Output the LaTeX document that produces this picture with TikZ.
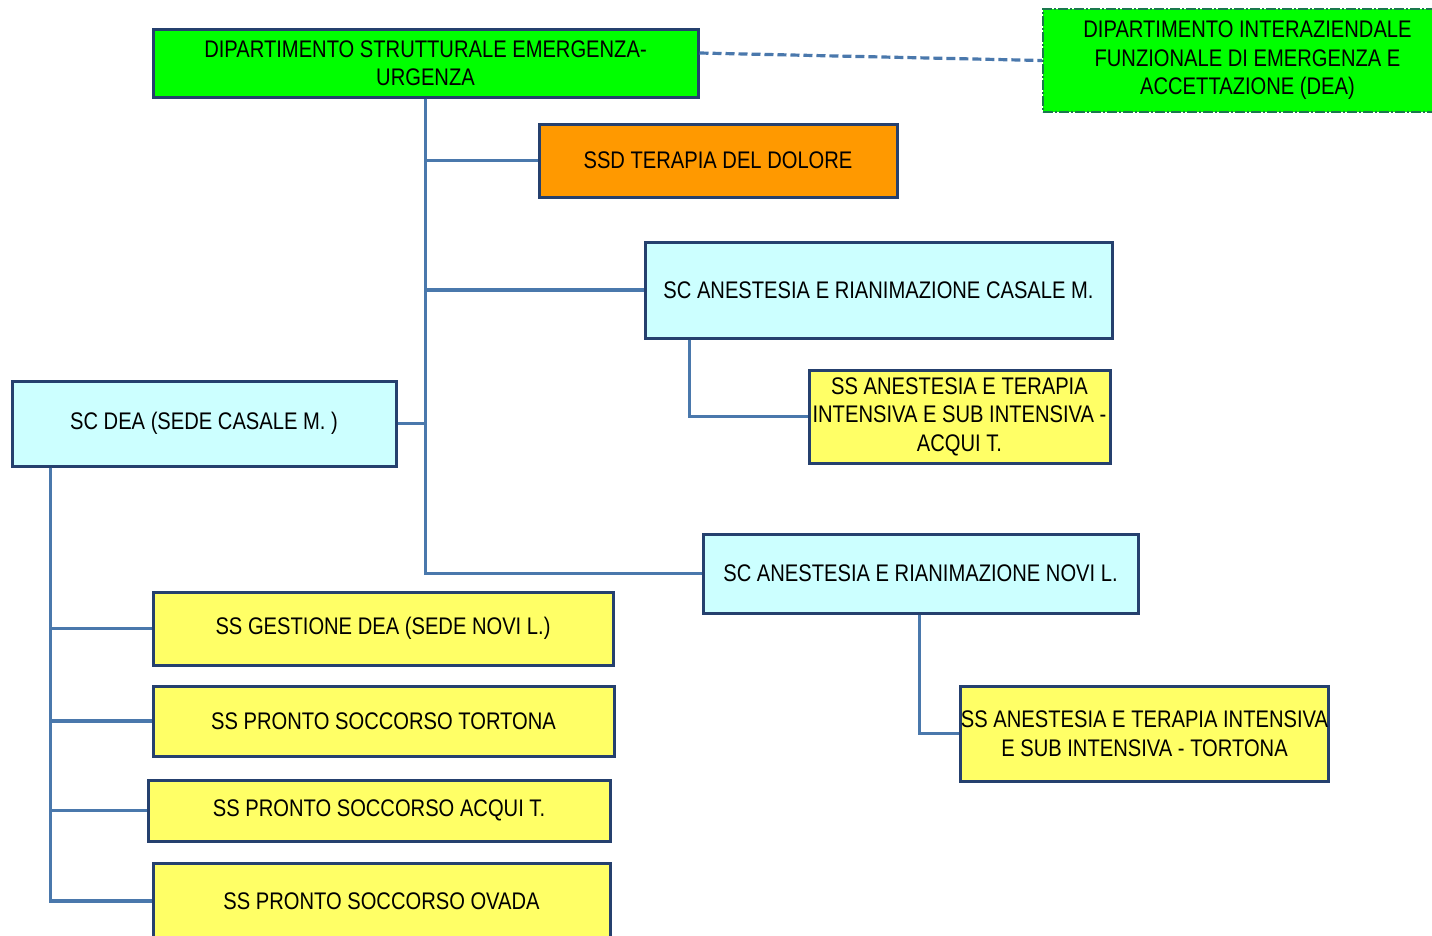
\documentclass[tikz,border=0pt]{standalone}
\usepackage{fontspec}
\setmainfont{Liberation Sans}[FakeStretch=0.84]

\definecolor{borderblue}{RGB}{37,64,110}
\definecolor{linkblue}{RGB}{74,120,172}
\definecolor{greenbox}{RGB}{0,255,0}
\definecolor{cyanbox}{RGB}{204,255,255}
\definecolor{yellowbox}{RGB}{255,255,102}
\definecolor{orangebox}{RGB}{255,153,0}

\tikzset{
  unit/.style={rectangle, draw=borderblue, line width=3pt, align=center,
    inner sep=0pt, font=\fontsize{24}{28.5}\selectfont},
  link/.style={draw=linkblue, line width=3.2pt},
}

\begin{document}
\begin{tikzpicture}[x=1pt,y=-1pt]
	\clip (0,0) rectangle (1432,935);
	\useasboundingbox (0,0) rectangle (1432,935);
	% departments
	\node[unit, fill=greenbox, minimum width=545pt, minimum height=68pt] (dipstr) at (425.5,63)
		{DIPARTIMENTO STRUTTURALE EMERGENZA-\\URGENZA};
	\node[unit, fill=greenbox, draw=borderblue!70!greenbox, line width=1.5pt,
		dash pattern=on 10pt off 2pt on 2pt off 2pt, minimum width=409pt, minimum height=103pt] (dea) at (1247.5,60.5)
		{DIPARTIMENTO INTERAZIENDALE\\FUNZIONALE DI EMERGENZA E\\ACCETTAZIONE (DEA)};
	% structures
	\node[unit, fill=orangebox, minimum width=358pt, minimum height=73pt] (ssd) at (718,160.5)
		{SSD TERAPIA DEL DOLORE};
	\node[unit, fill=cyanbox, minimum width=467pt, minimum height=96pt] (casale) at (878.5,290)
		{SC ANESTESIA E RIANIMAZIONE CASALE M.};
	\node[unit, fill=yellowbox, minimum width=301pt, minimum height=93pt] (acqui) at (959.5,416.5)
		{SS ANESTESIA E TERAPIA\\INTENSIVA E SUB INTENSIVA -\\ACQUI T.};
	\node[unit, fill=cyanbox, minimum width=384pt, minimum height=85pt] (scdea) at (204,423.5)
		{SC DEA (SEDE CASALE M. )};
	\node[unit, fill=cyanbox, minimum width=435pt, minimum height=79pt] (novi) at (920.5,573.5)
		{SC ANESTESIA E RIANIMAZIONE NOVI L.};
	\node[unit, fill=yellowbox, minimum width=365pt, minimum height=95pt] (tortona) at (1144.5,733.5)
		{SS ANESTESIA E TERAPIA INTENSIVA\\E SUB INTENSIVA - TORTONA};
	% simple structures of SC DEA
	\node[unit, fill=yellowbox, minimum width=460pt, minimum height=73pt] (gest) at (383,628.5)
		{SS GESTIONE DEA (SEDE NOVI L.)};
	\node[unit, fill=yellowbox, minimum width=461pt, minimum height=70pt] (pstortona) at (383.5,721)
		{SS PRONTO SOCCORSO TORTONA};
	\node[unit, fill=yellowbox, minimum width=462pt, minimum height=61pt] (psacqui) at (379,810.5)
		{SS PRONTO SOCCORSO ACQUI T.};
	\node[unit, fill=yellowbox, minimum width=457pt, minimum height=76pt] (psovada) at (381.5,901)
		{SS PRONTO SOCCORSO OVADA};

	% connections
	\draw[link, dash pattern=on 9pt off 4pt] ([yshift=10pt]dipstr.east) -- (dea.west);
	\foreach \n in {ssd,casale,novi}
		\draw[link] (dipstr.south) |- (\n.west);
	\draw[link] (dipstr.south) |- (scdea.east);
	\draw[link] ([xshift=46pt]casale.south west) |- (acqui.west);
	\draw[link] ([xshift=218pt]novi.south west) |- (tortona.west);
	\foreach \n in {gest,pstortona,psacqui,psovada}
		\draw[link] ([xshift=40pt]scdea.south west) |- (\n.west);
\end{tikzpicture}
\end{document}
